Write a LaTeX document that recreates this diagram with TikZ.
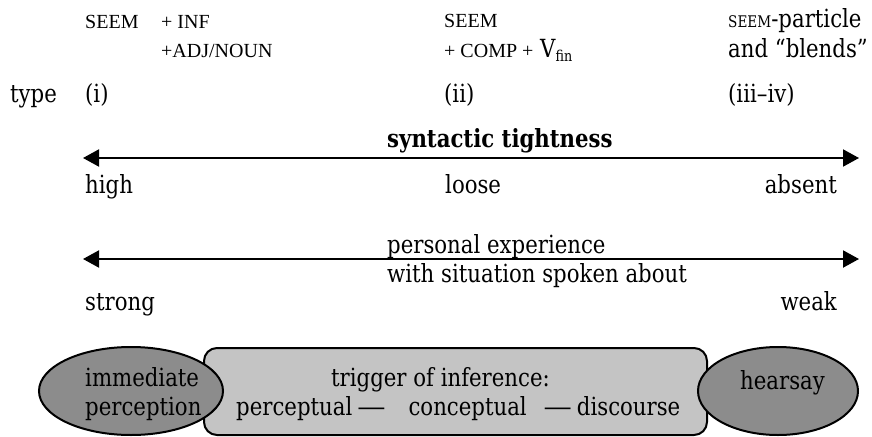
\documentclass[tikz,border=0pt]{standalone}
\usepackage{fontspec}
\setmainfont{DejaVu Serif}[FakeStretch=0.85]
\newfontfamily\capsfont{Liberation Serif}
\usepackage{graphicx}
\usepackage{tikz}
\usetikzlibrary{arrows.meta, positioning, shapes.geometric}
\definecolor{EvidDark}{HTML}{8C8C8C}
\definecolor{EvidLight}{HTML}{C4C4C4}
\newcommand{\smcp}[1]{{\capsfont\fontsize{20}{24}\selectfont #1}}
\newcommand{\fakesc}[1]{{\fontsize{16}{19}\selectfont #1}}
\newcommand{\longdash}{\scalebox{1.33}[1]{—}}

\begin{document}
\begin{tikzpicture}[x=1pt, y=-1pt, >={Triangle[length=16pt, width=17pt]},
    font=\fontsize{25}{29}\selectfont,
    lbl/.style={inner sep=0pt, anchor=base west},
    lblr/.style={inner sep=0pt, anchor=base east}]
      \useasboundingbox (0,0) rectangle (872,436);

      % Nodes: construction types
      \node [lbl] (seemA) at (85,29) {\smcp{SEEM}};
      \node [lbl] (inf) at (161,29) {\smcp{+ INF}};
      \node [lbl] (adjnoun) at (161,57) {\smcp{+ADJ/NOUN}};
      \node [lbl] (seemB) at (444,28) {\smcp{SEEM}};
      \node [lbl] (comp) at (444,57) {\smcp{+ COMP +} V\raisebox{-4pt}{\fontsize{15}{15}\selectfont fin}};
      \node [lbl] (particle) at (728,28) {\fakesc{SEEM}-particle};
      \node [lbl] (blends) at (728,57) {and “blends”};

      \node [lbl] (type) at (10,102) {type};
      \node [lbl] (typeA) at (85,102) {(i)};
      \node [lbl] (typeB) at (444,102) {(ii)};
      \node [lbl] (typeC) at (728,102) {(iii–iv)};

      % Nodes: scales
      \coordinate (tightL) at (83,158);
      \coordinate (tightR) at (859,158);
      \node [lbl] (tight) at (387,147) {\textbf{syntactic tightness}};
      \node [lbl] (high) at (85,193) {high};
      \node [lbl] (loose) at (445,193) {loose};
      \node [lblr] (absent) at (837,193) {absent};

      \coordinate (expL) at (83,259);
      \coordinate (expR) at (859,259);
      \node [lbl] (exp) at (387,253) {personal experience};
      \node [lbl] (situ) at (387,282) {with situation spoken about};
      \node [lbl] (strong) at (85,310) {strong};
      \node [lblr] (weak) at (837,310) {weak};

      % Nodes: sources of evidence
      \node [draw, line width=2pt, fill=EvidLight, rectangle, rounded corners=13pt, minimum width=503pt, minimum height=87pt] (infer) at (455.5,391.5) {};
      \node [lbl] (trigger) at (331,386) {trigger of inference:};
      \node [lbl] (kinds) at (236,415) {perceptual\hspace{5pt}\longdash\hspace{23pt}conceptual\hspace{17pt}\longdash\hspace{5pt}discourse};
      \node [draw, line width=2pt, fill=EvidDark, ellipse, minimum width=184pt, minimum height=88pt, inner sep=0pt] (percept) at (131,391) {};
      \node [lbl] (perceptA) at (85,386) {immediate};
      \node [lbl] (perceptB) at (85,415) {perception};
      \node [draw, line width=2pt, fill=EvidDark, ellipse, minimum width=160pt, minimum height=88pt, inner sep=0pt] (hearsay) at (778,391) {};
      \node [lbl] (hearsayA) at (740,389) {hearsay};

      % Paths
      \draw[<->, line width=2pt] (tightL) -- (tightR);
      \draw[<->, line width=2pt] (expL) -- (expR);
\end{tikzpicture}
\end{document}
